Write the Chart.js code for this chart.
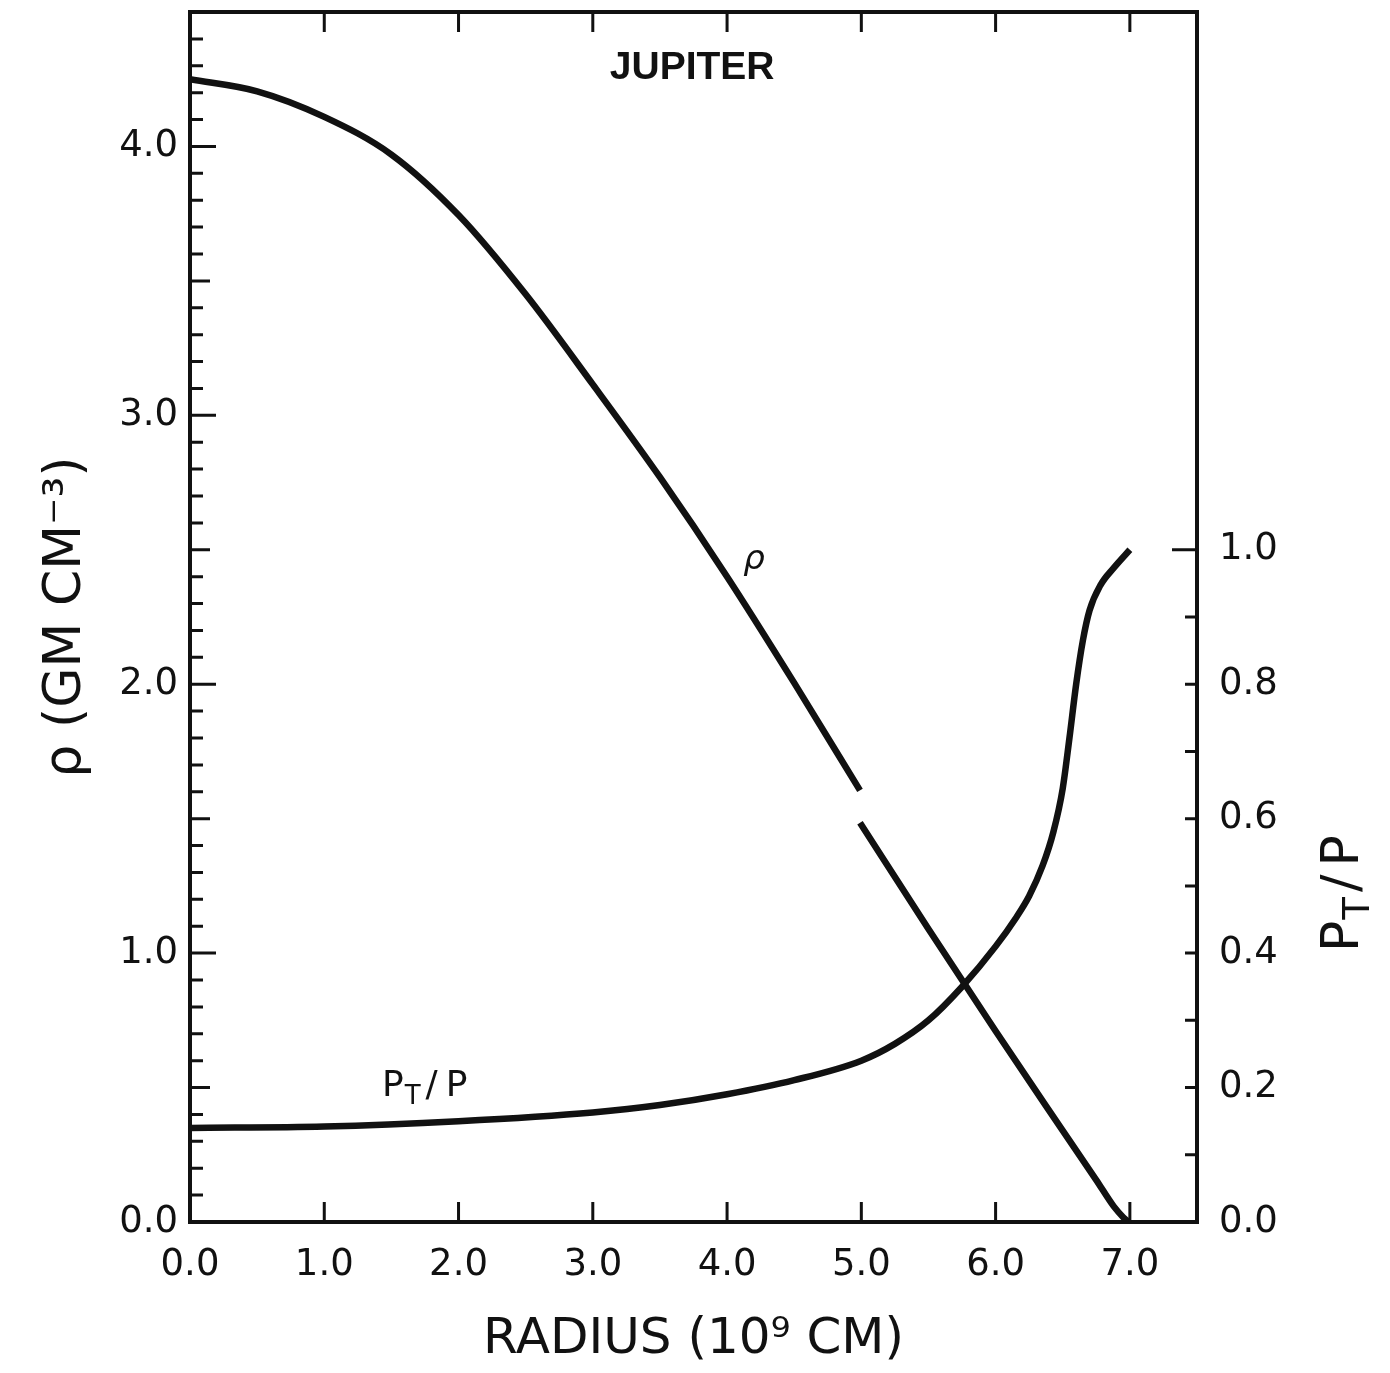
<!DOCTYPE html>
<html lang="en">
<head>
<meta charset="UTF-8">
<title>Jupiter density</title>
<script src="https://cdn.jsdelivr.net/npm/chart.js@4.4.0/dist/chart.umd.min.js"></script>
<style>
  body { margin: 0; background: #fff; }
  canvas { display: block; }
</style>
</head>
<body>
<canvas id="chartArea" width="1390" height="1373"></canvas>
<script>
// radius in 10^9 cm
var rhoInnerR = [0, 0.5, 1.0, 1.5, 2.0, 2.5, 3.0, 3.5, 4.0, 4.5, 4.99];
var rhoInner  = [4.25, 4.205, 4.11, 3.97, 3.745, 3.45, 3.115, 2.77, 2.40, 2.005, 1.605];
var rhoOuterR = [4.99, 5.5, 6.0, 6.5, 6.75, 6.88, 6.95, 6.99];
var rhoOuter  = [1.485, 1.09, 0.71, 0.34, 0.156, 0.058, 0.018, 0.0];
var ptR   = [0, 1.0, 2.0, 3.0, 3.5, 4.0, 4.5, 5.0, 5.25, 5.5, 5.75, 6.0, 6.15, 6.25, 6.35, 6.43, 6.5, 6.55, 6.6, 6.65, 6.7, 6.78, 6.88, 7.0];
var ptVal = [0.140, 0.142, 0.150, 0.163, 0.174, 0.190, 0.211, 0.240, 0.265, 0.300, 0.350, 0.410, 0.452, 0.485, 0.530, 0.580, 0.645, 0.720, 0.800, 0.865, 0.910, 0.947, 0.973, 1.0];

var ink = '#111';
var font = 'DejaVu Sans';

function pts(xs, ys) {
    return xs.map(function (v, i) { return {x: v, y: ys[i]}; });
}

function curve(xs, ys, axis) {
    return {
        data: pts(xs, ys),
        yAxisID: axis,
        borderColor: ink,
        borderWidth: 6.5,
        pointRadius: 0,
        cubicInterpolationMode: 'monotone',
        borderCapStyle: 'butt',
        fill: false
    };
}

// P with a subscript T, then "/P"
function drawPT(ctx, x, y, size) {
    ctx.font = size + 'px "' + font + '"';
    ctx.fillText('P', x, y);
    x += ctx.measureText('P').width + 1;
    ctx.font = Math.round(size * 0.72) + 'px "' + font + '"';
    ctx.fillText('T', x, y + size * 0.22);
    x += ctx.measureText('T').width + 5;
    ctx.font = size + 'px "' + font + '"';
    ctx.fillText('/', x, y);
    x += ctx.measureText('/').width + 8;
    ctx.fillText('P', x, y);
}

function noEdgePadding(s) {
    s.paddingTop = 0; s.paddingBottom = 0;
    s.paddingLeft = 0; s.paddingRight = 0;
}

const frameAndTicks = {
    id: 'frameAndTicks',
    afterDatasetsDraw(chart) {
        const ctx = chart.ctx;
        const a = chart.chartArea;
        const x = chart.scales.x, y = chart.scales.y, y2 = chart.scales.y2;
        ctx.save();
        ctx.strokeStyle = ink;
        ctx.fillStyle = ink;
        ctx.lineWidth = 4;
        ctx.strokeRect(a.left, a.top, a.right - a.left, a.bottom - a.top);

        ctx.lineWidth = 3;
        ctx.beginPath();
        for (let i = 1; i <= 44; i++) {
            const py = y.getPixelForValue(i / 10);
            const len = i % 10 === 0 ? 26 : (i % 5 === 0 ? 20 : 13);
            ctx.moveTo(a.left, py); ctx.lineTo(a.left + len, py);
        }
        for (let i = 1; i <= 10; i++) {
            const py = y2.getPixelForValue(i / 10);
            const len = i === 10 ? 25 : 12;
            ctx.moveTo(a.right, py); ctx.lineTo(a.right - len, py);
        }
        for (let i = 1; i <= 7; i++) {
            const px = x.getPixelForValue(i);
            ctx.moveTo(px, a.bottom); ctx.lineTo(px, a.bottom - 20);
            ctx.moveTo(px, a.top); ctx.lineTo(px, a.top + 20);
        }
        ctx.stroke();

        // labels inside the plot
        ctx.textBaseline = 'alphabetic';
        ctx.textAlign = 'center';
        ctx.font = 'bold 39px "Liberation Sans"';
        ctx.fillText('JUPITER', x.getPixelForValue(3.74), y.getPixelForValue(4.25));
        ctx.font = 'italic 34px "' + font + '"';
        ctx.fillText('ρ', x.getPixelForValue(4.2), y.getPixelForValue(2.43));
        ctx.textAlign = 'left';
        drawPT(ctx, x.getPixelForValue(1.43), y.getPixelForValue(0.47), 36);

        // right axis title, reading upwards
        ctx.translate(1358, 952);
        ctx.rotate(-Math.PI / 2);
        drawPT(ctx, 0, 0, 52);
        ctx.restore();
    }
};

const tickFont = {family: font, size: 37};

const config = {
    type: 'line',
    data: {
        datasets: [
            curve(rhoInnerR, rhoInner, 'y'),
            curve(rhoOuterR, rhoOuter, 'y'),
            curve(ptR, ptVal, 'y2')
        ]
    },
    options: {
        responsive: false,
        animation: false,
        devicePixelRatio: 1,
        layout: {padding: {top: 12, left: 0, right: 0, bottom: 0}},
        plugins: {legend: {display: false}, tooltip: {enabled: false}},
        scales: {
            x: {
                type: 'linear', position: 'bottom', min: 0, max: 7.5,
                grid: {display: false, drawTicks: false}, border: {display: false},
                ticks: {
                    stepSize: 1, includeBounds: false, padding: 21, color: ink, font: tickFont,
                    maxRotation: 0, autoSkip: false,
                    callback: v => v.toFixed(1)
                },
                title: {display: true, text: 'RADIUS (10⁹ CM)', color: ink,
                        font: {family: font, size: 50}, padding: {top: 0, bottom: 3}},
                afterFit(s) { s.height = 151; noEdgePadding(s); }
            },
            y: {
                type: 'linear', position: 'left', min: 0, max: 4.5,
                grid: {display: false, drawTicks: false}, border: {display: false},
                ticks: {
                    stepSize: 1, includeBounds: false, padding: 12, color: ink, font: tickFont, autoSkip: false,
                    callback: v => v.toFixed(1)
                },
                title: {display: true, text: 'ρ (GM CM⁻³)', color: ink,
                        font: {family: font, size: 52}, padding: {top: 35, bottom: 0}},
                afterFit(s) { s.width = 190; noEdgePadding(s); }
            },
            y2: {
                type: 'linear', position: 'right', min: 0, max: 1.8,
                grid: {display: false, drawTicks: false}, border: {display: false},
                ticks: {
                    stepSize: 0.2, includeBounds: false, padding: 22, color: ink, font: tickFont, autoSkip: false,
                    callback: v => v <= 1.0001 ? v.toFixed(1) : ''
                },
                afterFit(s) { s.width = 193; noEdgePadding(s); }
            }
        }
    },
    plugins: [frameAndTicks]
};

var myChart = new Chart(document.getElementById('chartArea'), config);
</script>
</body>
</html>
